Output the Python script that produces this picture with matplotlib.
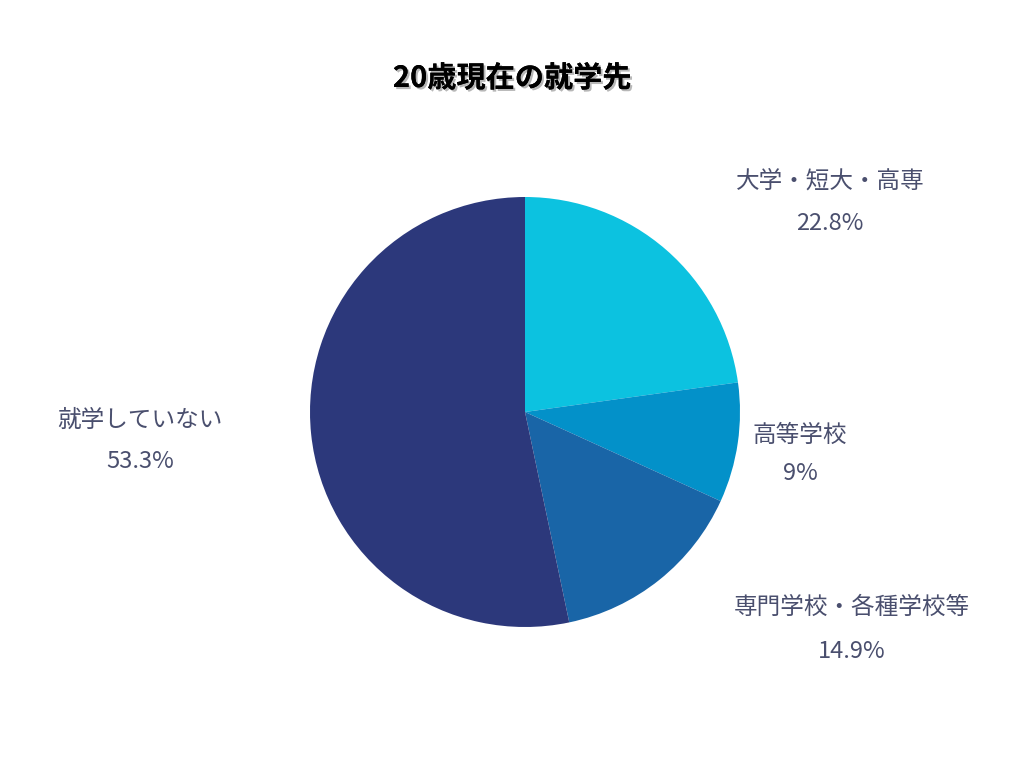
import matplotlib
matplotlib.use("Agg")
import matplotlib.pyplot as plt
import matplotlib.patheffects as pe

categories = ["大学・短大・高専", "高等学校", "専門学校・各種学校等", "就学していない"]
values = [22.8, 9, 14.9, 53.3]
value_labels = ["22.8%", "9%", "14.9%", "53.3%"]
colors = ["#0CC2E0", "#0391C9", "#1965A7", "#2C387B"]

plt.rcParams["font.family"] = "Noto Sans CJK JP"
fig = plt.figure(figsize=(10.24, 7.68), dpi=100)
ax = fig.add_axes([0, 0, 1, 1])
ax.set_xlim(0, 1024)
ax.set_ylim(768, 0)
ax.set_aspect("equal")
ax.axis("off")

# inverted y-axis flips rotation, so counterclock=True draws clockwise on screen
ax.pie(values, colors=colors, startangle=-90, counterclock=True,
       center=(525, 412), radius=215, frame=True)
ax.set_xlim(0, 1024)
ax.set_ylim(768, 0)
ax.axis("off")

label_pos = [(830, 181, 223), (800, 435, 473), (852, 607, 652), (140, 420, 462)]
tc = "#4A4F6E"
for cat, vl, (x, y1, y2) in zip(categories, value_labels, label_pos):
    ax.text(x, y1, cat, ha="center", va="center", fontsize=17, color=tc)
    ax.text(x, y2, vl, ha="center", va="center", fontsize=17, color=tc)

ax.text(512, 78, "20歳現在の就学先", ha="center", va="center", fontsize=21,
        fontweight="bold", color="black",
        path_effects=[pe.withSimplePatchShadow(offset=(1.5, -1.5), shadow_rgbFace="#888888", alpha=0.6), pe.Normal()])

fig.savefig("out.png", dpi=100)
